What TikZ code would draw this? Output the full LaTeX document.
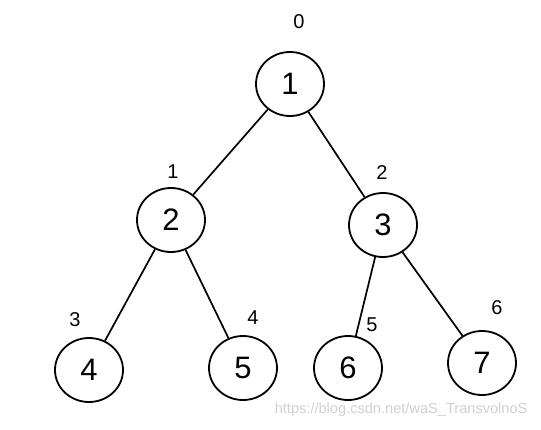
\documentclass[tikz,border=0pt]{standalone}
\usepackage{fontspec}
\setmainfont{Liberation Sans}
\usetikzlibrary{shapes.geometric}
\begin{document}
\begin{tikzpicture}[x=1pt,y=-1pt,
  tnode/.style={ellipse,draw,line width=1.8pt,minimum width=68pt,minimum height=64pt,inner sep=0pt,font=\fontsize{31}{32}\selectfont},
  idx/.style={font=\fontsize{20}{21}\selectfont},
  edge/.style={line width=1.7pt}]
\useasboundingbox[fill=white] (0,0) rectangle (541,429);
\node[tnode] (n1) at (290,84) {1};
\node[tnode] (n2) at (171,220) {2};
\node[tnode] (n3) at (383,225) {3};
\node[tnode] (n4) at (89,370) {4};
\node[tnode] (n5) at (243,368) {5};
\node[tnode] (n6) at (348,368) {6};
\node[tnode] (n7) at (482,363) {7};
\node[idx] (l0) at (299,22) {0};
\node[idx] (l1) at (173,172) {1};
\node[idx] (l2) at (382,173) {2};
\node[idx] (l3) at (75,320) {3};
\node[idx] (l4) at (253,318) {4};
\node[idx] (l5) at (372,325) {5};
\node[idx] (l6) at (497,308) {6};
\draw[edge] (n1) -- (n2);
\draw[edge] (n1) -- (n3);
\draw[edge] (n2) -- (n4);
\draw[edge] (n2) -- (n5);
\draw[edge] (n3) -- (n6);
\draw[edge] (n3) -- (n7);
\node[text=black!18,font=\fontsize{14.6}{15}\selectfont,anchor=east] (wm) at (531,410) {https://blog.csdn.net/waS\_TransvolnoS};
\end{tikzpicture}
\end{document}
